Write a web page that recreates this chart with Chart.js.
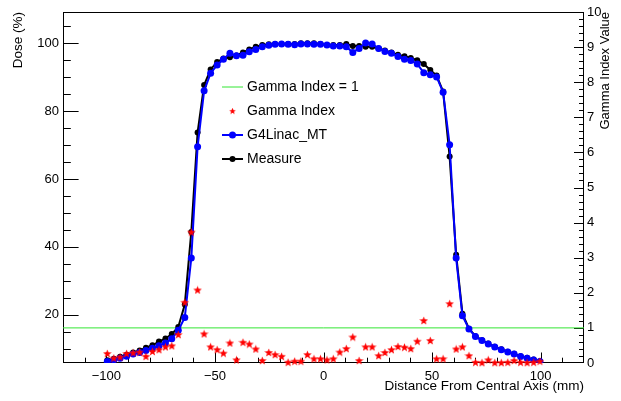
<!DOCTYPE html>
<html>
<head>
<meta charset="utf-8">
<script src="https://cdn.jsdelivr.net/npm/chart.js@4.4.1/dist/chart.umd.min.js"></script>
<style>
  html, body { margin: 0; padding: 0; background: #fff; }
</style>
</head>
<body>
<canvas id="profileChart" width="621" height="401"></canvas>
<script>
// Lateral dose profile: distance from the central axis (mm)
const distanceMm = [
  -99.6, -96.6, -93.7, -90.7, -87.7, -84.7, -81.8, -78.8, -75.8, -72.8,
  -69.9, -66.9, -63.9, -60.9, -58.0, -55.0, -52.0, -49.0, -46.1, -43.1,
  -40.1, -37.1, -34.2, -31.2, -28.2, -25.2, -22.3, -19.3, -16.3, -13.3,
  -10.4, -7.4, -4.4, -1.4, 1.6, 4.5, 7.5, 10.5, 13.5, 16.4,
  19.4, 22.4, 25.4, 28.3, 31.3, 34.3, 37.3, 40.2, 43.2, 46.2,
  49.2, 52.1, 55.1, 58.1, 61.1, 64.0, 67.0, 70.0, 73.0, 75.9,
  78.9, 81.9, 84.9, 87.8, 90.8, 93.8, 96.8, 99.7
];

// Simulated dose (%)
const g4linacDose = [
  6.2, 6.7, 7.2, 7.8, 8.4, 8.9, 9.5, 10.1, 10.9, 11.7,
  12.9, 15.4, 19.2, 36.7, 69.5, 86.0, 91.2, 93.6, 95.3, 97.1,
  96.3, 96.5, 97.5, 98.2, 99.0, 99.4, 99.7, 99.8, 99.7, 99.6,
  99.8, 99.8, 99.7, 99.7, 99.5, 99.2, 99.2, 99.0, 97.3, 98.5,
  100.1, 99.8, 98.5, 97.6, 97.1, 96.1, 95.3, 94.9, 93.9, 91.3,
  90.7, 90.1, 85.6, 70.1, 36.7, 19.7, 15.8, 13.6, 12.4, 11.4,
  10.5, 9.7, 9.0, 8.4, 7.7, 7.2, 6.7, 6.2
];

// Measured dose (%)
const measureDose = [
  6.6, 7.0, 7.6, 8.2, 8.9, 9.5, 10.3, 11.0, 12.1, 13.0,
  14.3, 16.4, 23.0, 44.4, 73.7, 87.7, 92.3, 94.5, 95.5, 95.9,
  96.4, 97.3, 98.2, 99.0, 99.5, 99.7, 99.8, 99.8, 99.8, 99.8,
  100.0, 100.0, 100.0, 99.8, 99.5, 99.5, 99.5, 99.8, 99.2, 99.2,
  99.0, 99.0, 98.5, 97.9, 97.3, 96.6, 96.2, 95.7, 95.0, 93.9,
  92.1, 90.5, 85.8, 66.6, 37.7, 20.3, 15.9, 13.7, 12.5, 11.5,
  10.6, 9.8, 9.1, 8.5, 7.8, 7.3, 6.8, 6.3
];

// Gamma index per point (right axis)
const gammaIndex = [
  0.27, 0.14, 0.17, 0.27, 0.29, 0.31, 0.19, 0.33, 0.38, 0.46,
  0.49, 0.81, 1.73, 3.73, 2.08, 0.83, 0.46, 0.38, 0.28, 0.57,
  0.09, 0.59, 0.54, 0.40, 0.07, 0.30, 0.24, 0.19, 0.02, 0.05,
  0.05, 0.24, 0.12, 0.12, 0.09, 0.12, 0.31, 0.41, 0.74, 0.07,
  0.46, 0.46, 0.21, 0.30, 0.38, 0.47, 0.45, 0.41, 0.62, 1.21,
  0.64, 0.12, 0.12, 1.69, 0.40, 0.46, 0.21, 0.02, 0.01, 0.09,
  0.01, 0.01, 0.02, 0.07, 0.02, 0.01, 0.02, 0.05
];

const gammaLimit = 1;
const xRange = [-120, 120];
const xMajor = [-100, -50, 0, 50, 100];
const doseMajor = [20, 40, 60, 80, 100];
const gammaMajor = [0, 1, 2, 3, 4, 5, 6, 7, 8, 9, 10];

const FONT = '"Liberation Sans", Arial, Helvetica, sans-serif';
const gammaAxisTitle = 'Gamma Index Value';

// filled five-point star marker
function makeStar(size, color) {
  const c = document.createElement('canvas');
  c.width = c.height = size;
  const g = c.getContext('2d');
  const r = size / 2, ri = r * 0.42;
  g.beginPath();
  for (let i = 0; i < 10; i++) {
    const rad = i % 2 ? ri : r;
    const ang = -Math.PI / 2 + i * Math.PI / 5;
    g.lineTo(r + rad * Math.cos(ang), r + 0.4 + rad * Math.sin(ang));
  }
  g.closePath();
  g.fillStyle = color;
  g.fill();
  return c;
}
const starMarker = makeStar(9, '#ff0000');

const pairs = (ys) => distanceMm.map((x, i) => ({ x, y: ys[i] }));

// box around the plot and inward-pointing tick marks
const frameTicks = {
  id: 'frameTicks',
  beforeDatasetsDraw(chart) {
    const { ctx, chartArea: a, scales } = chart;
    ctx.save();
    ctx.strokeStyle = '#000';
    ctx.lineWidth = 1;
    ctx.beginPath();
    for (let v = -110; v <= 110; v += 10) {
      const px = Math.round(scales.x.getPixelForValue(v)) + 0.5;
      const len = v % 50 === 0 ? 10.5 : 5.3;
      ctx.moveTo(px, a.bottom);
      ctx.lineTo(px, a.bottom - len);
    }
    for (let v = 10; v <= 105; v += 5) {
      const py = Math.round(scales.y.getPixelForValue(v)) + 0.5;
      const len = v % 20 === 0 ? 15.6 : 7.8;
      ctx.moveTo(a.left, py);
      ctx.lineTo(a.left + len, py);
    }
    for (let i = 1; i < 50; i++) {
      const py = Math.round(scales.y2.getPixelForValue(i / 5)) + 0.5;
      const len = i % 5 === 0 ? 10 : 5;
      ctx.moveTo(a.right, py);
      ctx.lineTo(a.right - len, py);
    }
    ctx.stroke();
    ctx.strokeRect(a.left + 0.5, a.top + 0.5, a.right - a.left - 1, a.bottom - a.top - 1);
    ctx.restore();
  }
};

// vertical title of the gamma axis, reading bottom to top
const rightTitle = {
  id: 'rightTitle',
  afterDraw(chart) {
    const { ctx, chartArea: a } = chart;
    ctx.save();
    ctx.translate(a.right + 21, a.top);
    ctx.rotate(-Math.PI / 2);
    ctx.font = '13px ' + FONT;
    ctx.fillStyle = '#000';
    ctx.textAlign = 'right';
    ctx.textBaseline = 'middle';
    ctx.fillText(gammaAxisTitle, 0, 0);
    ctx.restore();
  }
};

// legend inside the frame: line/marker sample followed by the label
const legendOrder = [3, 0, 1, 2];
const inlineLegend = {
  id: 'inlineLegend',
  afterDatasetsDraw(chart) {
    const { ctx } = chart;
    ctx.save();
    ctx.font = '14px ' + FONT;
    ctx.textBaseline = 'middle';
    ctx.textAlign = 'left';
    legendOrder.forEach((idx, row) => {
      const ds = chart.data.datasets[idx];
      const y = 87 + row * 24;
      if (ds.showLine !== false) {
        ctx.strokeStyle = ds.borderColor;
        ctx.lineWidth = ds.borderWidth;
        ctx.beginPath();
        ctx.moveTo(222, y);
        ctx.lineTo(243, y);
        ctx.stroke();
      }
      if (ds.pointStyle instanceof HTMLCanvasElement) {
        ctx.drawImage(ds.pointStyle, 232.5 - 3.5, y - 3.5, 7, 7);
      } else if (ds.pointRadius > 0) {
        ctx.fillStyle = ds.pointBackgroundColor;
        ctx.beginPath();
        ctx.arc(232.5, y, ds.pointRadius, 0, Math.PI * 2);
        ctx.fill();
      }
      ctx.fillStyle = '#000';
      ctx.fillText(ds.label, 247, y);
    });
    ctx.restore();
  }
};

const tickFont = { family: FONT, size: 13 };

new Chart(document.getElementById('profileChart'), {
  type: 'line',
  data: {
    datasets: [
      {
        label: 'Gamma Index',
        data: pairs(gammaIndex),
        yAxisID: 'y2',
        showLine: false,
        pointStyle: starMarker,
        pointRadius: 4.5,
        clip: false
      },
      {
        label: 'G4Linac_MT',
        data: pairs(g4linacDose),
        yAxisID: 'y',
        borderColor: '#0000ff',
        borderWidth: 2,
        pointRadius: 3.5,
        pointBorderWidth: 0,
        pointBackgroundColor: '#0000ff',
        tension: 0
      },
      {
        label: 'Measure',
        data: pairs(measureDose),
        yAxisID: 'y',
        borderColor: '#000000',
        borderWidth: 2,
        pointRadius: 3,
        pointBorderWidth: 0,
        pointBackgroundColor: '#000000',
        tension: 0
      },
      {
        label: 'Gamma Index = 1',
        data: [{ x: xRange[0], y: gammaLimit }, { x: xRange[1], y: gammaLimit }],
        yAxisID: 'y2',
        borderColor: '#33e633',
        borderWidth: 1,
        pointRadius: 0
      }
    ]
  },
  options: {
    responsive: false,
    devicePixelRatio: 1,
    animation: false,
    layout: { padding: { top: 12, left: 0, right: 0, bottom: 0 } },
    plugins: { legend: { display: false }, tooltip: { enabled: false } },
    scales: {
      x: {
        type: 'linear',
        min: xRange[0],
        max: xRange[1],
        afterBuildTicks: s => { s.ticks = xMajor.map(v => ({ value: v })); },
        afterFit: s => { s.height = 38; },
        grid: { display: false, drawTicks: false },
        border: { display: false },
        ticks: {
          color: '#000', font: tickFont, padding: 6, maxRotation: 0, autoSkip: false,
          callback: v => (v < 0 ? '\u2212' + Math.abs(v) : String(v))
        },
        title: {
          display: true, text: 'Distance From Central Axis (mm)', align: 'end',
          color: '#000', font: { family: FONT, size: 13.5 }, padding: { top: 0, bottom: 7 }
        }
      },
      y: {
        position: 'left',
        min: 5.78,
        max: 109.22,
        afterBuildTicks: s => { s.ticks = doseMajor.map(v => ({ value: v })); },
        afterFit: s => { s.width = 63; },
        grid: { display: false, drawTicks: false },
        border: { display: false },
        ticks: { color: '#000', font: tickFont, padding: 4 },
        title: {
          display: true, text: 'Dose (%)', align: 'end',
          color: '#000', font: { family: FONT, size: 13.5 }, padding: { top: 10, bottom: 0 }
        }
      },
      y2: {
        position: 'right',
        min: 0,
        max: 10,
        afterBuildTicks: s => { s.ticks = gammaMajor.map(v => ({ value: v })); },
        afterFit: s => { s.width = 37; },
        grid: { display: false, drawTicks: false },
        border: { display: false },
        ticks: { color: '#000', font: tickFont, padding: 3 }
      }
    }
  },
  plugins: [frameTicks, rightTitle, inlineLegend]
});
</script>
</body>
</html>
